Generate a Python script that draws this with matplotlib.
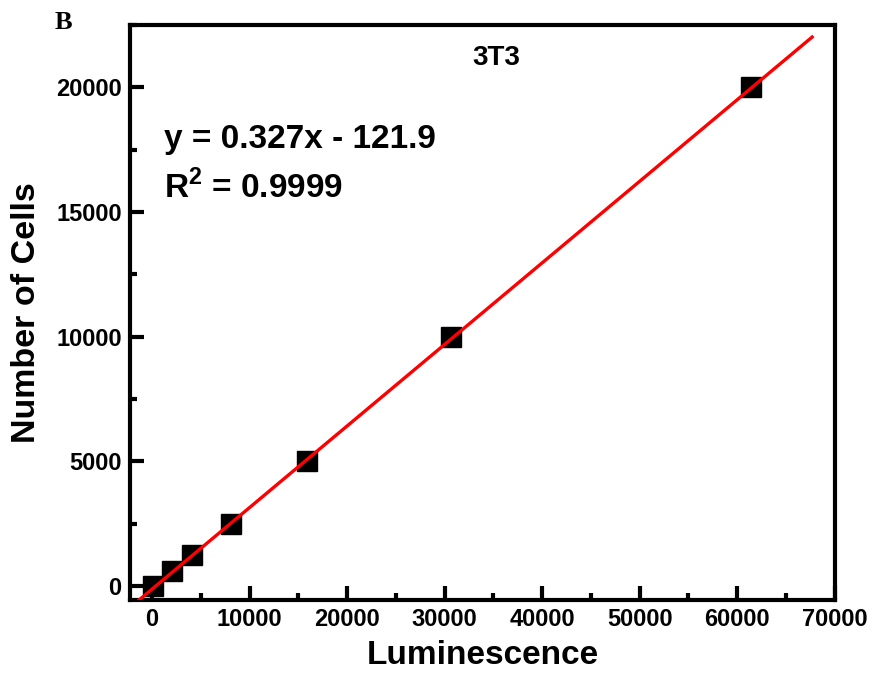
import numpy as np
import matplotlib
matplotlib.use("Agg")
import matplotlib.pyplot as plt

# datos (3T3)
lum = [150, 2050, 4100, 8150, 15900, 30700, 61400]
cells = [0, 625, 1250, 2500, 5000, 10000, 20000]
slope, intercept = 0.327, -121.9
fit_x = [-1500, 67700]
xticks = [0, 10000, 20000, 30000, 40000, 50000, 60000, 70000]
yticks = [0, 5000, 10000, 15000, 20000]

plt.rcParams["font.family"] = ["Liberation Sans", "DejaVu Sans"]
plt.rcParams["font.weight"] = "bold"
plt.rcParams["mathtext.fontset"] = "custom"
plt.rcParams["mathtext.bf"] = "Liberation Sans:bold"
plt.rcParams["mathtext.rm"] = "Liberation Sans:bold"

fig = plt.figure(figsize=(8.73, 6.75), dpi=100)
ax = fig.add_axes([0.149, 0.111, 0.807, 0.852])

fx = np.array(fit_x)
ax.plot(fx, slope * fx + intercept, color="red", lw=2.4, zorder=3)
ax.plot(lum, cells, "s", color="black", ms=14, zorder=2)

ax.set_xlim(-2250, 70000)
ax.set_ylim(-560, 22485)
ax.set_xticks(xticks)
ax.set_yticks(yticks)
ax.set_xticks([5000 + 10000 * i for i in range(7)], minor=True)
ax.set_yticks([2500 + 5000 * i for i in range(5)], minor=True)

for s in ax.spines.values():
    s.set_linewidth(3)
ax.tick_params(which="both", direction="in", width=3)
ax.tick_params(which="major", length=10, labelsize=17, pad=6)
ax.tick_params(which="minor", length=5)
for lab in ax.get_xticklabels() + ax.get_yticklabels():
    lab.set_fontweight("bold")

ax.set_xlabel("Luminescence", fontsize=24, fontweight="bold", labelpad=6)
ax.set_ylabel("Number of Cells", fontsize=24.5, fontweight="bold", labelpad=10)

ax.text(0.52, 0.965, "3T3", transform=ax.transAxes, ha="center", va="top",
        fontsize=20, fontweight="bold")
ax.text(0.048, 0.80, "y = 0.327x - 121.9", transform=ax.transAxes, ha="left",
        va="center", fontsize=24, fontweight="bold")
ax.text(0.048, 0.718, r"R$^{2}$ = 0.9999", transform=ax.transAxes, ha="left",
        va="center", fontsize=24, fontweight="bold")

fig.text(0.062, 0.967, "B", fontsize=19, fontweight="bold",
         family=["Liberation Serif", "DejaVu Serif"], va="center")

fig.savefig("out.png", dpi=100)
